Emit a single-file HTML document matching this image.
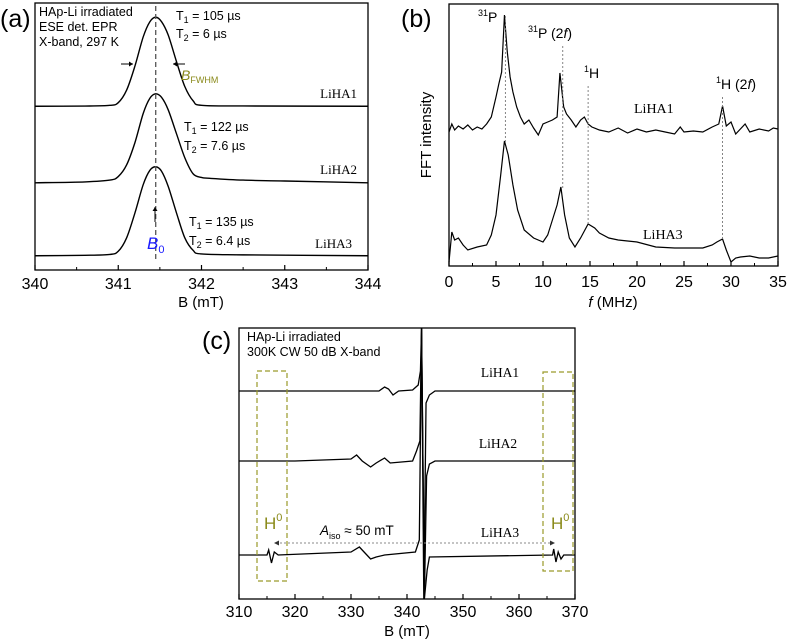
<!DOCTYPE html>
<html style="margin:0;width:787px;height:640px;overflow:hidden"><head><meta charset="utf-8"><style>
body{margin:0;background:#fff;width:787px;height:640px;overflow:hidden;}
svg{display:block;font-family:"Liberation Sans",sans-serif;}
.serif{font-family:"Liberation Serif",serif;}
</style></head><body>
<svg id="fig" width="787" height="640" viewBox="0 0 787 640" overflow="hidden">
<defs>
<clipPath id="clipA"><rect x="35" y="3" width="333" height="267"/></clipPath>
<clipPath id="clipB"><rect x="449" y="4" width="329" height="262"/></clipPath>
<clipPath id="clipC"><rect x="239" y="328" width="336" height="271"/></clipPath>
</defs>
<g id="pa"></g>
<g id="pb"></g>
<g id="pc"></g>
</svg>
<script>
// ---------- Panel (a) data ----------
const aTicks = [340,341,342,343,344];
const aB1 = [340,340.6,340.9,341.0,341.1,341.2,341.3,341.38,341.45,341.52,341.6,341.7,341.8,341.9,342.0,342.5,344];
const aI1 = [0,0.002,0.01,0.04,0.18,0.45,0.78,0.95,1.0,0.95,0.8,0.5,0.22,0.06,0.01,0.003,0];
const aB2 = [340,340.6,340.9,341.0,341.1,341.2,341.3,341.38,341.45,341.52,341.6,341.7,341.8,341.9,342.0,342.1,342.5,343,344];
const aI2 = [0,0.01,0.03,0.07,0.2,0.45,0.78,0.95,1.0,0.96,0.82,0.55,0.28,0.1,0.06,0.05,0.03,0.02,0];
const aB3 = [340,340.6,340.9,341.0,341.1,341.2,341.3,341.38,341.45,341.52,341.6,341.7,341.8,341.9,342.0,342.5,344];
const aI3 = [0,0.005,0.015,0.05,0.2,0.48,0.8,0.96,1.0,0.95,0.78,0.48,0.2,0.06,0.02,0.01,0];
const aOffsets = [1.84,0.98,0.16];
// ---------- Panel (b) data ----------
const bTicks = [0,5,10,15,20,25,30,35];
const bF1 = [0,0.3,0.6,1,1.5,2,2.5,3,3.5,4,4.5,5,5.3,5.6,5.9,6.2,6.5,6.8,7.2,7.6,8,8.5,9,9.5,10,10.5,11,11.5,11.8,12.2,12.5,13,13.5,14,14.4,14.8,15.2,16,17,18,19,20,21,22,23,24,24.6,25,26,27,28,28.7,29.1,29.5,30,30.5,31,31.5,32,33,34,34.5,35];
const bI1 = [0,8,2,6,3,7,2,5,3,8,15,35,48,60,117,80,55,40,25,15,8,12,4,-3,8,10,12,15,59,25,18,12,5,12,15,8,5,2,0,4,-1,3,0,2,0,-2,5,0,1,0,5,8,26,6,10,-2,3,8,0,3,1,4,3];
const bF3 = [0,0.3,0.6,1,1.5,2,3,4,4.5,5,5.5,5.9,6.3,6.8,7.3,8,9,10,10.5,11,11.5,11.9,12.3,12.8,13.4,14,14.8,15.5,16,17,18,19,20,22,24,26,27,28,28.5,29.1,29.5,30,30.5,31,32,33,34,35];
const bI3 = [-12,18,10,12,5,0,3,5,15,35,75,109,95,65,40,20,12,8,15,30,45,63,35,12,3,12,26,22,17,12,10,9,8,3,2,2,2,5,8,11,0,-12,-8,-7,-6,-8,-8,-6];
const bBase1 = 134, bBase3 = 16;
const bMarks = [6,12.1,14.8,29.1];
// ---------- Panel (c) data ----------
const cTicks = [310,320,330,340,350,360,370];
const cB1 = [310,320,330,335,336,336.7,337.5,338.5,341,342,342.4,342.6,343.0,343.4,344,345,370];
const cI1 = [0,0,0,0,4,2,-4,0,1,6,20,63,-208,-12,-4,0,0];
const cB2 = [310,320,330,331,332,333.5,334.5,336,337,341,341.7,342.3,342.6,343.1,343.5,344,345,370];
const cI2 = [0,0,2,6,0,-6,-2,3,-2,0,10,20,133,-138,-15,-3,0,0];
const cB3 = [310,315,315.3,315.8,316.3,317,330,331.5,332.5,333.5,334.5,336,341.5,342.2,342.6,343.1,343.6,344,366,366.2,366.6,367,367.5,368,370];
const cI3 = [0,0,5,-8,3,0,3,8,2,-4,-2,0,3,15,227,-44,-15,-2,0,6,-7,3,-4,0,0];
const cOffsets = [208,138,44];

const NS="http://www.w3.org/2000/svg";
function mk(parent,tag,attrs,text){const e=document.createElementNS(NS,tag);for(const k in attrs)e.setAttribute(k,attrs[k]);if(text!==undefined)e.textContent=text;parent.appendChild(e);return e;}
function lin(d0,d1,r0,r1){return v=>r0+(v-d0)*(r1-r0)/(d1-d0);}
function smoothPath(pts){let d="M"+pts[0][0].toFixed(2)+","+pts[0][1].toFixed(2);
 for(let i=0;i<pts.length-1;i++){const p0=pts[Math.max(0,i-1)],p1=pts[i],p2=pts[i+1],p3=pts[Math.min(pts.length-1,i+2)];
 const c1=[p1[0]+(p2[0]-p0[0])/6,p1[1]+(p2[1]-p0[1])/6],c2=[p2[0]-(p3[0]-p1[0])/6,p2[1]-(p3[1]-p1[1])/6];
 d+=" C"+c1[0].toFixed(2)+","+c1[1].toFixed(2)+" "+c2[0].toFixed(2)+","+c2[1].toFixed(2)+" "+p2[0].toFixed(2)+","+p2[1].toFixed(2);}return d;}
function polyPath(pts){return "M"+pts.map(p=>p[0].toFixed(2)+","+p[1].toFixed(2)).join(" L");}
function axes(g,x0,y0,x1,y1,xs,ticks,minorStep,ly){
 const box=mk(g,'rect',{x:x0,y:y0,width:x1-x0,height:y1-y0,fill:'none',stroke:'#000','stroke-width':1.3});
 
 
 for(let i=0;i<ticks.length;i++){const t=ticks[i],x=xs(t);
  const tk=mk(g,'line',{x1:x,x2:x,y1:y1,y2:y1-5,stroke:'#000','stroke-width':1.2});
  
  
  const lb=mk(g,'text',{x:x,y:ly,'text-anchor':'middle','font-size':16},String(t));
  
  
  if(i<ticks.length-1){const xm=xs(t+minorStep);
   const mt=mk(g,'line',{x1:xm,x2:xm,y1:y1,y2:y1-3,stroke:'#000','stroke-width':1});
   
   }
 }}
function txt(g,x,y,s,attrs,name){const t=mk(g,'text',Object.assign({x:x,y:y},attrs||{}));t.innerHTML=s;
 
 return t;}

// ---------- Panel A ----------
(function(){const g=document.getElementById('pa');
 const xs=lin(340,344,35,368), ys=lin(0,3,270,3);
 const sets=[[aB1,aI1,'trace-liha1'],[aB2,aI2,'trace-liha2'],[aB3,aI3,'trace-liha3']];
 const cg=mk(g,'g',{'clip-path':'url(#clipA)'});
 sets.forEach((s,k)=>{const pts=s[0].map((b,i)=>[xs(b),ys(s[1][i]+aOffsets[k])]);
  const p=mk(cg,'path',{d:smoothPath(pts),fill:'none',stroke:'#000','stroke-width':1.4});
  
  });
 const dl=mk(g,'line',{x1:xs(341.45),x2:xs(341.45),y1:6,y2:262,stroke:'#555','stroke-width':1.3,'stroke-dasharray':'5,3'});
 
 
 axes(g,35,3,368,270,xs,aTicks,0.5,289);
 txt(g,201,307,'B (mT)',{'text-anchor':'middle','font-size':15},'x-axis-title');
 txt(g,0,27,'(a)',{'font-size':25},'panel-label-a');
 txt(g,39,16,'HAp-Li irradiated',{'font-size':12.5},'annotation-line1');
 txt(g,39,31,'ESE det. EPR',{'font-size':12.5},'annotation-line2');
 txt(g,39,46,'X-band, 297 K',{'font-size':12.5},'annotation-line3');
 txt(g,176,20,'T<tspan font-size="9" dy="3">1</tspan><tspan dy="-3"> = 105 µs</tspan>',{'font-size':12.5},'t-label-liha1');
 txt(g,176,38,'T<tspan font-size="9" dy="3">2</tspan><tspan dy="-3"> = 6 µs</tspan>',{'font-size':12.5},'t-label-liha1');
 txt(g,184,131,'T<tspan font-size="9" dy="3">1</tspan><tspan dy="-3"> = 122 µs</tspan>',{'font-size':12.5},'t-label-liha2');
 txt(g,184,150,'T<tspan font-size="9" dy="3">2</tspan><tspan dy="-3"> = 7.6 µs</tspan>',{'font-size':12.5},'t-label-liha2');
 txt(g,189,226,'T<tspan font-size="9" dy="3">1</tspan><tspan dy="-3"> = 135 µs</tspan>',{'font-size':12.5},'t-label-liha3');
 txt(g,189,245,'T<tspan font-size="9" dy="3">2</tspan><tspan dy="-3"> = 6.4 µs</tspan>',{'font-size':12.5},'t-label-liha3');
 txt(g,357,98,'LiHA1',{'text-anchor':'end','font-size':13,'class':'serif'},'label-liha1');
 txt(g,357,174,'LiHA2',{'text-anchor':'end','font-size':13,'class':'serif'},'label-liha2');
 txt(g,352,248,'LiHA3',{'text-anchor':'end','font-size':13,'class':'serif'},'label-liha3');
 txt(g,181,80,'<tspan font-style="italic">B</tspan><tspan font-size="9" dy="3">FWHM</tspan>',{'font-size':14,fill:'#8a8a1a'},'fwhm-label');
 txt(g,147,249,'<tspan font-style="italic">B</tspan><tspan font-size="11" dy="4">0</tspan>',{'font-size':17,fill:'#1a1aff'},'b0-label');
 const ar=[[121,64,133,64],[185,64,173,64],[155,222,155,207]];
 ar.forEach(a=>{const l=mk(g,'line',{x1:a[0],y1:a[1],x2:a[2],y2:a[3],stroke:'#000','stroke-width':1});
  
  
  const dx=Math.sign(a[2]-a[0]),dy=Math.sign(a[3]-a[1]);
  const pts=dx?[[a[2],a[3]],[a[2]-4*dx,a[3]-2.5],[a[2]-4*dx,a[3]+2.5]]:[[a[2],a[3]],[a[2]-2.5,a[3]-4*dy],[a[2]+2.5,a[3]-4*dy]];
  const h=mk(g,'polygon',{points:pts.map(p=>p.join(',')).join(' '),fill:'#000'});
  
  });
})();

// ---------- Panel B ----------
(function(){const g=document.getElementById('pb');
 const xs=lin(0,35,449,778), ys=lin(0,262,266,4);
 const cg=mk(g,'g',{'clip-path':'url(#clipB)'});
 const marksTop=[16,46,86,97], marksBot=[142,190,225,240];
 bMarks.forEach((m,i)=>{const l=mk(g,'line',{x1:xs(m),x2:xs(m),y1:marksTop[i],y2:marksBot[i],stroke:'#777','stroke-width':0.9,'stroke-dasharray':'2,2'});
  
  });
 [[bF1,bI1,bBase1,'trace-liha1'],[bF3,bI3,bBase3,'trace-liha3']].forEach(s=>{
  const pts=s[0].map((f,i)=>[xs(f),ys(s[1][i]+s[2])]);
  const p=mk(cg,'path',{d:polyPath(pts),fill:'none',stroke:'#000','stroke-width':1.2});
  
  });
 axes(g,449,4,778,266,xs,bTicks,2.5,287);
 txt(g,613,307,'<tspan font-style="italic">f</tspan> (MHz)',{'text-anchor':'middle','font-size':15},'x-axis-title');
 txt(g,431,135,'FFT intensity',{'text-anchor':'middle','font-size':15,transform:'rotate(-90 431 135)'},'y-axis-title');
 txt(g,401,27,'(b)',{'font-size':25},'panel-label-b');
 txt(g,478,22,'<tspan font-size="9" dy="-6">31</tspan><tspan dy="6">P</tspan>',{'font-size':14},'peak-label-31p');
 txt(g,528,38,'<tspan font-size="9" dy="-6">31</tspan><tspan dy="6">P (2</tspan><tspan font-style="italic">f</tspan>)',{'font-size':14},'peak-label-31p-2f');
 txt(g,584,78,'<tspan font-size="9" dy="-6">1</tspan><tspan dy="6">H</tspan>',{'font-size':14},'peak-label-1h');
 txt(g,716,89,'<tspan font-size="9" dy="-6">1</tspan><tspan dy="6">H (2</tspan><tspan font-style="italic">f</tspan>)',{'font-size':14},'peak-label-1h-2f');
 txt(g,634,113,'LiHA1',{'font-size':14,'class':'serif'},'label-liha1');
 txt(g,643,239,'LiHA3',{'font-size':14,'class':'serif'},'label-liha3');
})();

// ---------- Panel C ----------
(function(){const g=document.getElementById('pc');
 const xs=lin(310,370,239,575), ys=lin(0,271,599,328);
 const cg=mk(g,'g',{'clip-path':'url(#clipC)'});
 [[cB1,cI1,'trace-liha1'],[cB2,cI2,'trace-liha2'],[cB3,cI3,'trace-liha3']].forEach((s,k)=>{
  const pts=s[0].map((b,i)=>[xs(b),ys(s[1][i]+cOffsets[k])]);
  const p=mk(cg,'path',{d:polyPath(pts),fill:'none',stroke:'#000','stroke-width':1.3});
  
  });
 axes(g,239,328,575,599,xs,cTicks,5,617);
 txt(g,407,636,'B (mT)',{'text-anchor':'middle','font-size':15},'x-axis-title');
 txt(g,202,349,'(c)',{'font-size':25},'panel-label-c');
 txt(g,247,341,'HAp-Li irradiated',{'font-size':12.5},'annotation-line1');
 txt(g,247,356,'300K CW 50 dB X-band',{'font-size':12.5},'annotation-line2');
 txt(g,500,377,'LiHA1',{'text-anchor':'middle','font-size':13.5,'class':'serif'},'label-liha1');
 txt(g,498,448,'LiHA2',{'text-anchor':'middle','font-size':13.5,'class':'serif'},'label-liha2');
 txt(g,500,537,'LiHA3',{'text-anchor':'middle','font-size':13.5,'class':'serif'},'label-liha3');
 [[257,371,30,210],[543,372,30,199]].forEach(r=>{const b=mk(g,'rect',{x:r[0],y:r[1],width:r[2],height:r[3],fill:'none',stroke:'#9a9a2a','stroke-width':1.2,'stroke-dasharray':'5,3'});
  
  });
 txt(g,264,529,'H<tspan font-size="11" dy="-8">0</tspan>',{'font-size':17,fill:'#8a8a1a'},'h0-label-left');
 txt(g,551,529,'H<tspan font-size="11" dy="-8">0</tspan>',{'font-size':17,fill:'#8a8a1a'},'h0-label-right');
 const al=mk(g,'line',{x1:276,y1:543,x2:553,y2:543,stroke:'#888','stroke-width':0.9,'stroke-dasharray':'2,2'});
 
 
 [[274,543,1],[555,543,-1]].forEach(a=>{const h=mk(g,'polygon',{points:`${a[0]},${a[1]} ${a[0]+5*a[2]},${a[1]-2.5} ${a[0]+5*a[2]},${a[1]+2.5}`,fill:'#333'});
  
  });
 txt(g,320,535,'<tspan font-style="italic">A</tspan><tspan font-size="9" dy="4">iso</tspan><tspan dy="-4"> ≈ 50 mT</tspan>',{'font-size':13.5},'aiso-label');
})();
</script>
</body></html>
